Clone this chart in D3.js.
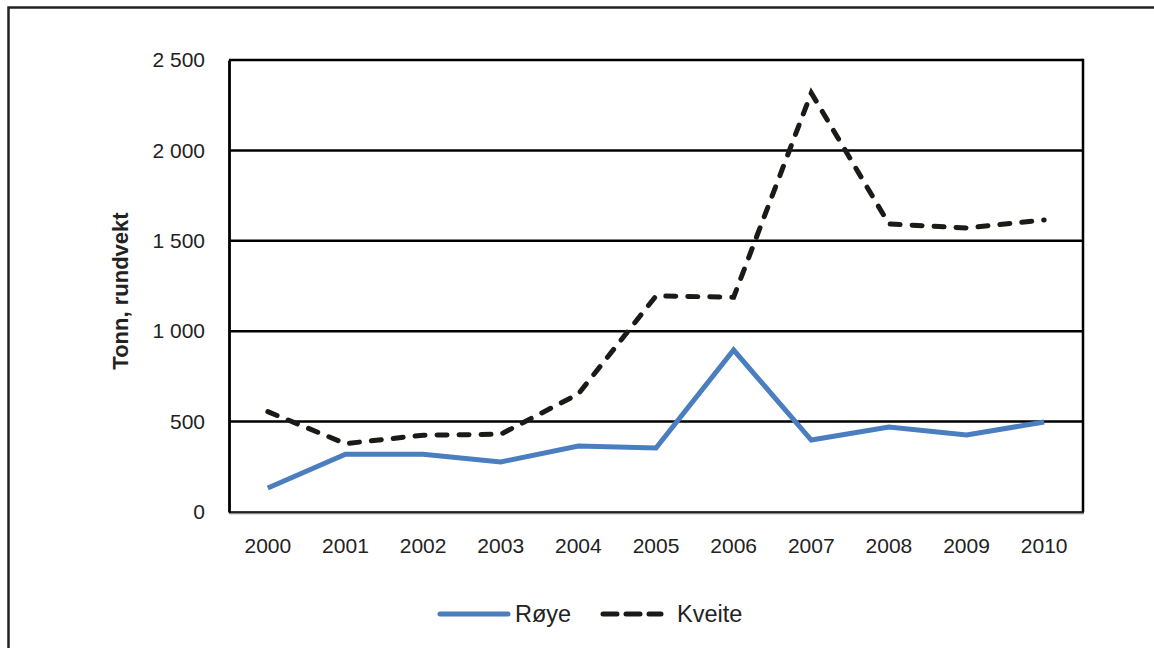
<!DOCTYPE html>
<html><head><meta charset="utf-8">
<script src="https://cdn.jsdelivr.net/npm/d3@7"></script>
<style>html,body{margin:0;padding:0;background:#fff;}svg{display:block;font-family:"Liberation Sans",Arial,sans-serif;}</style>
</head><body>
<svg id="c" width="1154" height="648"></svg>
<script>
const years = ["2000","2001","2002","2003","2004","2005","2006","2007","2008","2009","2010"];
const roye = [133, 320, 320, 277, 365, 354, 896, 398, 470, 426, 498];
const kveite = [555, 378, 425, 430, 653, 1195, 1188, 2318, 1593, 1571, 1615];
const yTicks = [0, 500, 1000, 1500, 2000, 2500];
const seriesNames = ["Røye", "Kveite"];

const svg = d3.select("#c");
const m = {left: 229, right: 1083, top: 60, bottom: 512};

// outer frame
svg.append("path").attr("d", "M8.5,648 V7.5 H1154").attr("fill","none").attr("stroke","#222").attr("stroke-width",2.5);

const x = d3.scaleBand().domain(years).range([m.left, m.right]);
const y = d3.scaleLinear().domain([0, 2500]).range([m.bottom, m.top]);
const fmt = v => d3.format(",")(v).replace(/,/g, " ");

// gridlines
svg.append("g").selectAll("line").data(yTicks.filter(d => d > 0)).join("line")
  .attr("x1", m.left).attr("x2", m.right)
  .attr("y1", d => y(d)).attr("y2", d => y(d))
  .attr("stroke", "#000").attr("stroke-width", 2.5);

// right border
svg.append("line").attr("x1", m.right).attr("x2", m.right).attr("y1", m.top - 1.2).attr("y2", m.bottom)
  .attr("stroke", "#000").attr("stroke-width", 2.5);

// bottom axis
svg.append("line").attr("x1", m.left).attr("x2", m.right + 1).attr("y1", m.bottom + 1).attr("y2", m.bottom + 1)
  .attr("stroke", "#888").attr("stroke-width", 2.5);
svg.append("line").attr("x1", m.left).attr("x2", m.right + 1).attr("y1", m.bottom).attr("y2", m.bottom)
  .attr("stroke", "#000").attr("stroke-width", 1.5);

// left axis
const yAxis = d3.axisLeft(y).tickValues(yTicks).tickSize(0).tickPadding(24).tickFormat(fmt);
const ga = svg.append("g").attr("transform", `translate(${m.left},0)`).call(yAxis);
ga.select(".domain").attr("stroke", "#000").attr("stroke-width", 2.8);
ga.selectAll("text").attr("font-size", 21).attr("fill", "#222").attr("font-family", '"Liberation Sans",Arial,sans-serif');

const xAxis = d3.axisBottom(x).tickSize(0).tickPadding(26);
const gx = svg.append("g").attr("transform", `translate(0,${m.bottom})`).call(xAxis);
gx.select(".domain").remove();
gx.selectAll("text").attr("font-size", 21).attr("fill", "#222").attr("font-family", '"Liberation Sans",Arial,sans-serif');

// y label
svg.append("text").attr("transform", "translate(128,291) rotate(-90)")
  .attr("text-anchor", "middle").attr("font-size", 22).attr("font-weight", "bold").attr("fill", "#222")
  .text("Tonn, rundvekt");

const line = d3.line().x((d, i) => x(years[i]) + x.bandwidth() / 2).y(d => y(d));

svg.append("path").datum(roye).attr("d", line).attr("fill", "none")
  .attr("stroke", "#4A7EBF").attr("stroke-width", 5).attr("stroke-linejoin", "miter");
svg.append("path").datum(kveite).attr("d", line).attr("fill", "none")
  .attr("stroke", "#1a1a17").attr("stroke-width", 5).attr("stroke-linecap", "round")
  .attr("stroke-dasharray", "10,12");

// legend
const lg = svg.append("g");
lg.append("line").attr("x1", 440).attr("x2", 508).attr("y1", 614).attr("y2", 614)
  .attr("stroke", "#4A7EBF").attr("stroke-width", 5).attr("stroke-linecap", "round");
lg.append("text").attr("x", 515).attr("y", 622).attr("font-size", 23.5).attr("fill", "#222").text(seriesNames[0]);
lg.append("line").attr("x1", 603).attr("x2", 661).attr("y1", 614).attr("y2", 614)
  .attr("stroke", "#1a1a17").attr("stroke-width", 5).attr("stroke-linecap", "round")
  .attr("stroke-dasharray", "14,9");
lg.append("text").attr("x", 677).attr("y", 622).attr("font-size", 23.5).attr("fill", "#222").text(seriesNames[1]);
</script>
</body></html>
